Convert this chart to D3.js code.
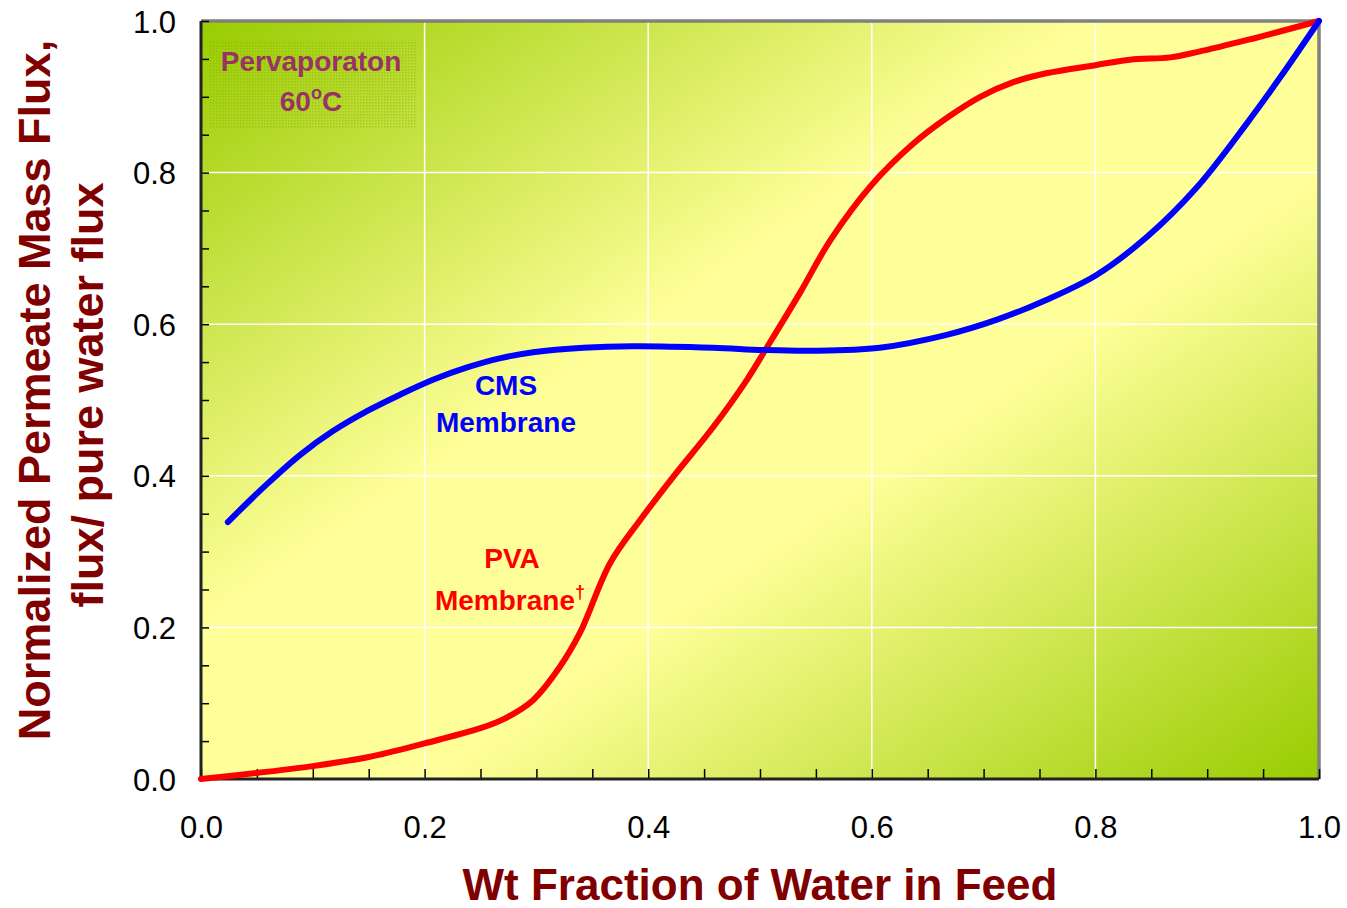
<!DOCTYPE html>
<html>
<head>
<meta charset="utf-8">
<script src="https://cdn.jsdelivr.net/npm/d3@7"></script>
<style>
  html, body { margin: 0; padding: 0; background: #ffffff; }
  svg { display: block; font-family: "Liberation Sans", Arial, Helvetica, sans-serif; }
</style>
</head>
<body>
<svg id="chart" width="1347" height="908"></svg>
<script>
// ---------------- data ----------------
const pvaX = [0, 0.05, 0.1, 0.15, 0.2, 0.25, 0.272, 0.297, 0.321, 0.339, 0.366, 0.393, 0.422, 0.458, 0.488, 0.506, 0.536, 0.563, 0.6, 0.637, 0.667, 0.697, 0.726, 0.756, 0.801, 0.831, 0.867, 0.891, 0.936, 1.0];
const pvaY = [0, 0.008, 0.017, 0.029, 0.047, 0.067, 0.080, 0.104, 0.148, 0.193, 0.285, 0.342, 0.398, 0.464, 0.526, 0.569, 0.642, 0.711, 0.784, 0.838, 0.872, 0.900, 0.919, 0.931, 0.942, 0.949, 0.952, 0.959, 0.975, 1.0];
const cmsX = [0.024, 0.059, 0.089, 0.118, 0.148, 0.178, 0.208, 0.238, 0.267, 0.297, 0.342, 0.386, 0.458, 0.503, 0.547, 0.607, 0.667, 0.712, 0.756, 0.801, 0.846, 0.891, 0.936, 0.965, 1.0];
const cmsY = [0.339, 0.389, 0.428, 0.459, 0.485, 0.507, 0.527, 0.543, 0.555, 0.563, 0.569, 0.571, 0.569, 0.566, 0.565, 0.569, 0.586, 0.606, 0.632, 0.665, 0.715, 0.781, 0.866, 0.925, 1.0];
const majorTicks = [0, 0.2, 0.4, 0.6, 0.8, 1.0];
const minorTicks = d3.range(0, 1.0001, 0.05);
const gridTicks = [0.2, 0.4, 0.6, 0.8];
const xTitle = "Wt Fraction of Water in Feed";
const yTitle1 = "Normalized Permeate Mass Flux,";
const yTitle2 = "flux/ pure water flux";

// ---------------- layout ----------------
const svg = d3.select("#chart");
const L = 201, T = 21, W = 1118, H = 758;
const x = d3.scaleLinear().domain([0, 1]).range([L, L + W]);
const y = d3.scaleLinear().domain([0, 1]).range([T + H, T]);

const defs = svg.append("defs");
const grad = defs.append("linearGradient").attr("id", "bg")
  .attr("x1", 0).attr("y1", 0).attr("x2", 1).attr("y2", 1);
[[0, "#99cc00"], [0.4, "#ffff99"], [0.6, "#ffff99"], [1, "#99cc00"]].forEach(([o, c]) =>
  grad.append("stop").attr("offset", o).attr("stop-color", c));

const pat = defs.append("pattern").attr("id", "dots").attr("patternUnits", "userSpaceOnUse")
  .attr("width", 3).attr("height", 3);
pat.append("rect").attr("width", 1.5).attr("height", 1.5).attr("fill", "#7fa300").attr("opacity", 0.35);

// plot background
svg.append("rect").attr("x", L).attr("y", T).attr("width", W).attr("height", H).attr("fill", "url(#bg)");

// label box background
svg.append("rect").attr("x", 210).attr("y", 40).attr("width", 207).attr("height", 88).attr("fill", "url(#dots)");

// grid lines
svg.append("g").selectAll("line").data(gridTicks).join("line")
  .attr("x1", d => x(d)).attr("x2", d => x(d)).attr("y1", T).attr("y2", T + H)
  .attr("stroke", "#ffffff").attr("stroke-width", 1.5);
svg.append("g").selectAll("line").data(gridTicks).join("line")
  .attr("y1", d => y(d)).attr("y2", d => y(d)).attr("x1", L).attr("x2", L + W)
  .attr("stroke", "#ffffff").attr("stroke-width", 1.5);

// frame top/right gray
svg.append("path")
  .attr("d", `M${L},${T} H${L + W} V${T + H}`)
  .attr("fill", "none").attr("stroke", "#808080").attr("stroke-width", 3.5);

// minor ticks via d3 axes
const xTickAxis = d3.axisBottom(x).tickValues(minorTicks).tickSizeInner(-10).tickSizeOuter(0).tickFormat("");
const gx = svg.append("g").attr("transform", `translate(0,${T + H})`).call(xTickAxis);
gx.select(".domain").remove();
gx.selectAll(".tick line").attr("stroke", "#000").attr("stroke-width", 1.5);

const yTickAxis = d3.axisLeft(y).tickValues(minorTicks).tickSizeInner(-8).tickSizeOuter(0).tickFormat("");
const gy = svg.append("g").attr("transform", `translate(${L},0)`).call(yTickAxis);
gy.select(".domain").remove();
gy.selectAll(".tick line").attr("stroke", "#000").attr("stroke-width", 1.5);

// axis lines left/bottom
svg.append("path")
  .attr("d", `M${L},${T} V${T + H} H${L + W}`)
  .attr("fill", "none").attr("stroke", "#222").attr("stroke-width", 3);

// tick labels
const xLab = d3.axisBottom(x).tickValues(majorTicks).tickSize(0).tickPadding(0).tickFormat(d3.format(".1f"));
const gxl = svg.append("g").attr("transform", `translate(0,${T + H})`).call(xLab);
gxl.select(".domain").remove();
gxl.selectAll("text").attr("font-size", 31).attr("fill", "#000").attr("font-family", "Liberation Sans, Arial, sans-serif")
  .attr("dy", null).attr("y", 59);

const yLab = d3.axisLeft(y).tickValues(majorTicks).tickSize(0).tickPadding(0).tickFormat(d3.format(".1f"));
const gyl = svg.append("g").attr("transform", `translate(${L},0)`).call(yLab);
gyl.select(".domain").remove();
gyl.selectAll("text").attr("font-size", 31).attr("fill", "#000").attr("font-family", "Liberation Sans, Arial, sans-serif")
  .attr("x", -25).attr("dy", "0.36em");

// curves
const line = d3.line().x(d => x(d[0])).y(d => y(d[1])).curve(d3.curveCatmullRom.alpha(0.5));
svg.append("path").datum(pvaX.map((v, i) => [v, pvaY[i]])).attr("d", line)
  .attr("fill", "none").attr("stroke", "#ff0000").attr("stroke-width", 6).attr("stroke-linecap", "round");
svg.append("path").datum(cmsX.map((v, i) => [v, cmsY[i]])).attr("d", line)
  .attr("fill", "none").attr("stroke", "#0000ff").attr("stroke-width", 6).attr("stroke-linecap", "round");

// annotations
const ann = svg.append("g").attr("font-weight", "bold").attr("text-anchor", "middle");
ann.append("text").attr("x", 311).attr("y", 71).attr("font-size", 28).attr("fill", "#993366").text("Pervaporaton");
const t60 = ann.append("text").attr("x", 311).attr("y", 111).attr("font-size", 28).attr("fill", "#993366");
t60.append("tspan").text("60");
t60.append("tspan").attr("font-size", 18).attr("dy", -12).text("o");
t60.append("tspan").attr("dy", 12).text("C");

ann.append("text").attr("x", 506).attr("y", 395).attr("font-size", 28).attr("fill", "#0000ff").text("CMS");
ann.append("text").attr("x", 506).attr("y", 432).attr("font-size", 28).attr("fill", "#0000ff").text("Membrane");

ann.append("text").attr("x", 512).attr("y", 568).attr("font-size", 28).attr("fill", "#ff0000").text("PVA");
const pm = ann.append("text").attr("x", 510).attr("y", 610).attr("font-size", 28).attr("fill", "#ff0000");
pm.append("tspan").text("Membrane");
pm.append("tspan").attr("font-size", 18).attr("dy", -12).text("†");

// axis titles
svg.append("text").attr("x", 760).attr("y", 900).attr("text-anchor", "middle")
  .attr("font-size", 44).attr("font-weight", "bold").attr("fill", "#800000").text(xTitle);
svg.append("text").attr("transform", "translate(50,390) rotate(-90)").attr("text-anchor", "middle")
  .attr("font-size", 45).attr("font-weight", "bold").attr("fill", "#800000").text(yTitle1);
svg.append("text").attr("transform", "translate(103,395) rotate(-90)").attr("text-anchor", "middle")
  .attr("font-size", 45).attr("font-weight", "bold").attr("fill", "#800000").text(yTitle2);
</script>
</body>
</html>
